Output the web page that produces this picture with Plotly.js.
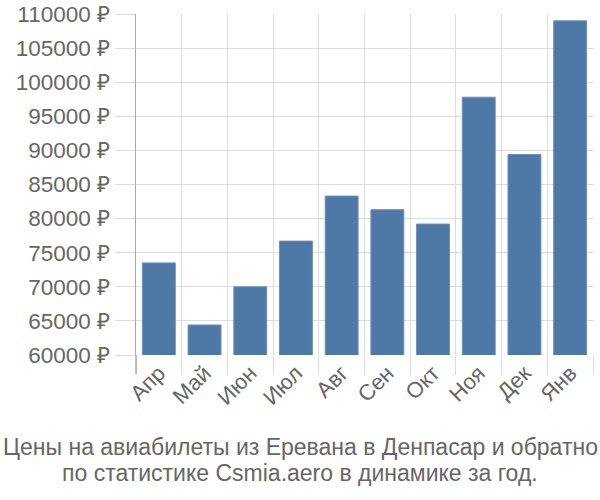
<!DOCTYPE html>
<html><head><meta charset="utf-8">
<script src="https://cdn.plot.ly/plotly-3.0.1.min.js"></script>
<style>body{margin:0}#c{width:600px;height:500px}</style>
</head><body><div id="c"></div>
<script>
const months = ["Апр","Май","Июн","Июл","Авг","Сен","Окт","Ноя","Дек","Янв"];
const prices = [73500, 64400, 70000, 76700, 83300, 81300, 79200, 97800, 89400, 109000];
const yTicks = [60000,65000,70000,75000,80000,85000,90000,95000,100000,105000,110000];
const yTickText = yTicks.map(v => v + " ₽");
const titleLines = ["Цены на авиабилеты из Еревана в Денпасар и обратно",
                    "по статистике Csmia.aero в динамике за год."];

const font = "Liberation Sans, Arial, sans-serif";
const L = 136, R = 7, T = 14, B = 145, W = 600, H = 500;
const pw = W - L - R, ph = H - T - B;
const cx = (300 - L) / pw;
const lineY = [447, 473];
Plotly.newPlot("c", [{
  type: "bar", x: months, y: prices, base: 0,
  marker: {color: "#4e78a6", line: {color: "#6d8fba", width: 1}},
  hoverinfo: "none"
}], {
  width: W, height: H,
  margin: {l: L, r: R, t: T, b: B},
  paper_bgcolor: "#fff", plot_bgcolor: "#fff",
  bargap: 0.28,
  showlegend: false,
  xaxis: {
    type: "category", tickson: "boundaries", ticks: "outside", ticklen: 19,
    tickcolor: "#ddd", showgrid: true, gridcolor: "#ddd", gridwidth: 1,
    tickangle: -45, tickfont: {family: font, size: 22, color: "#666"},
    showline: false, zeroline: false
  },
  yaxis: {
    range: [60000, 110000], tickvals: yTicks, ticktext: yTickText,
    ticks: "outside", ticklen: 20, tickcolor: "#ddd",
    showgrid: true, gridcolor: "#ddd", gridwidth: 1,
    tickfont: {family: font, size: 22.5, color: "#666"},
    showline: true, linecolor: "#aaa", linewidth: 1.5, zeroline: false
  },
  shapes: [{type: "line", xref: "paper", yref: "paper", x0: 0, x1: 0, y0: 0, y1: -19/ph,
            line: {color: "#aaa", width: 1.5}}],
  annotations: titleLines.map((t, i) => ({text: t, xref: "paper", yref: "paper", x: cx, xanchor: "center",
    y: (T + ph - lineY[i]) / ph, yanchor: "middle", showarrow: false,
    font: {family: font, size: 23, color: "#666"}}))
}, {displayModeBar: false, staticPlot: true});
</script></body></html>
